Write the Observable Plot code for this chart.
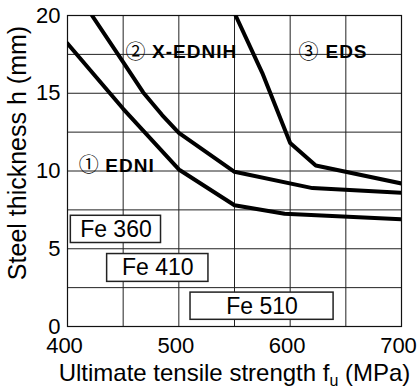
<!DOCTYPE html>
<html>
<head>
<meta charset="utf-8">
<script src="https://cdn.jsdelivr.net/npm/d3@7"></script>
<script src="https://cdn.jsdelivr.net/npm/@observablehq/plot@0.6"></script>
<style>
  html, body { margin: 0; padding: 0; background: #fff; }
  #chart svg { display: block; }
</style>
</head>
<body>
<div id="chart"></div>
<script>
// Curves: ultimate tensile strength (MPa) vs steel thickness h (mm)
const edniX   = [400, 450, 500, 550, 595, 700];
const edniY   = [18.2, 14.0, 10.1, 7.8, 7.25, 6.9];
const xednihX = [422, 450, 468, 485, 500, 550, 620, 700];
const xednihY = [20, 17.0, 15.05, 13.6, 12.45, 9.95, 8.9, 8.6];
const edsX    = [551, 575, 600, 623, 700];
const edsY    = [20, 16.3, 11.8, 10.35, 9.2];

// Steel grade boxes (strength range, thickness range)
const gradeNames = ["Fe 360", "Fe 410", "Fe 510"];
const gradeX1 = [403, 435.6, 510.5];
const gradeX2 = [484, 526.6, 639];
const gradeY1 = [5.37, 2.87, 0.43];
const gradeY2 = [7.12, 4.66, 2.18];

// Curve labels
const labelNums  = ["①", "②", "③"];
const labelNames = ["EDNI", "X-EDNIH", "EDS"];
const labelNumX  = [419, 461, 616.5];
const labelNameX = [434, 476, 631.7];
const labelY     = [10.34, 17.64, 17.64];

// Axis ticks and grid
const xTicks = [400, 500, 600, 700];
const yTicks = [0, 5, 10, 15, 20];
const xGrid = [450, 500, 550, 600, 650];
const yGrid = [2.5, 5, 7.5, 10, 12.5, 15, 17.5];

const series = [
  ...edniX.map((x, i) => ({name: "EDNI", x, y: edniY[i]})),
  ...xednihX.map((x, i) => ({name: "X-EDNIH", x, y: xednihY[i]})),
  ...edsX.map((x, i) => ({name: "EDS", x, y: edsY[i]}))
];
const grades = gradeNames.map((name, i) => ({name, x1: gradeX1[i], x2: gradeX2[i], y1: gradeY1[i], y2: gradeY2[i]}));
const labels = labelNames.map((name, i) => ({num: labelNums[i], name, xn: labelNumX[i], xl: labelNameX[i], y: labelY[i]}));

const font = "'Liberation Sans', Arial, Helvetica, sans-serif";

const chart = Plot.plot({
  width: 418,
  height: 389,
  marginLeft: 67,
  marginRight: 17,
  marginTop: 15,
  marginBottom: 63,
  style: {fontFamily: font, background: "#fff", color: "#000"},
  x: {domain: [400, 700]},
  y: {domain: [0, 20]},
  marks: [
    Plot.gridX(xGrid, {stroke: "#222", strokeOpacity: 1, strokeWidth: 1}),
    Plot.gridY(yGrid, {stroke: "#222", strokeOpacity: 1, strokeWidth: 1}),
    Plot.frame({stroke: "#111", strokeWidth: 1.2}),
    Plot.rect(grades, {x1: "x1", x2: "x2", y1: "y1", y2: "y2", fill: "white", stroke: "#222", strokeWidth: 1.5}),
    Plot.text(grades, {x: d => (d.x1 + d.x2) / 2, y: d => (d.y1 + d.y2) / 2, text: "name", fontSize: 23, fill: "#000"}),
    Plot.line(series, {x: "x", y: "y", z: "name", stroke: "#000", strokeWidth: 4, curve: "linear", clip: true}),
    Plot.text(labels, {x: "xn", y: "y", text: "num", fontSize: 20, fontFamily: "'Noto Sans CJK JP', 'DejaVu Sans', sans-serif", fill: "#000"}),
    Plot.text(labels, {x: "xl", y: "y", text: "name", fontSize: 19, fontWeight: "bold", textAnchor: "start", fill: "#000"}),
    Plot.axisX(xTicks, {tickSize: 0, tickPadding: 11, fontSize: 22, dx: -3, label: null}),
    Plot.axisY(yTicks, {tickSize: 0, tickPadding: 7, fontSize: 22, label: null}),
    Plot.text(["Steel thickness h (mm)"], {frameAnchor: "left", textAnchor: "middle", lineAnchor: "middle", rotate: -90, dx: -50, dy: -18, fontSize: 25, fill: "#000"}),
    Plot.text(["Ultimate tensile strength fu (MPa)"], {frameAnchor: "bottom", textAnchor: "middle", dy: 54, fontSize: 24, fill: "#000"})
  ]
});

// subscript u in x-axis title
d3.select(chart).selectAll("text").each(function() {
  if (this.textContent === "Ultimate tensile strength fu (MPa)") {
    const t = d3.select(this);
    t.text(null);
    t.append("tspan").text("Ultimate tensile strength f");
    t.append("tspan").attr("font-size", 16).attr("dy", 5).text("u");
    t.append("tspan").attr("dy", -5).text(" (MPa)");
  }
});
// letter spacing for bold labels
d3.select(chart).selectAll("text").each(function() {
  if (labelNames.includes(this.textContent)) this.setAttribute("letter-spacing", "1px");
});

document.getElementById("chart").appendChild(chart);
</script>
</body>
</html>
